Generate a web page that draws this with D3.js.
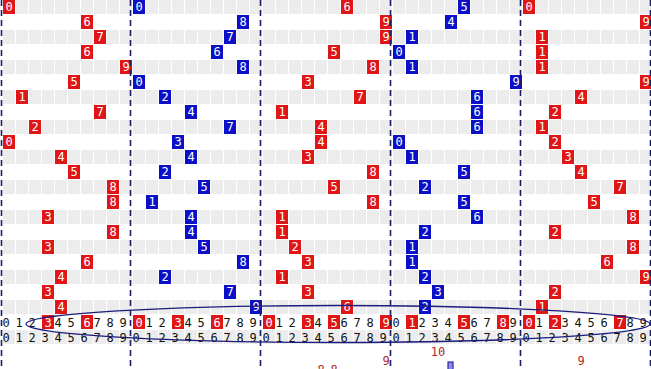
<!DOCTYPE html>
<html><head><meta charset="utf-8">
<script src="https://cdn.jsdelivr.net/npm/d3@7/dist/d3.min.js"></script>
<style>html,body{margin:0;padding:0;background:#fff;overflow:hidden}svg{display:block}</style>
</head><body>
<script>
// ---- data ----
const digits = [0,1,2,3,4,5,6,7,8,9];
const group1 = [0,6,7,6,9,5,1,7,2,0,4,5,8,8,3,8,3,6,4,3,4];
const group2 = [0,8,7,6,8,0,2,4,7,3,4,2,5,1,4,4,5,8,2,7,9];
const group3 = [6,9,9,5,8,3,7,1,4,4,3,8,5,8,1,1,2,3,1,3,6];
const group4 = [5,4,1,0,1,9,6,6,6,0,1,5,2,5,6,2,1,1,2,3,2];
const group5 = [0,9,1,1,1,9,4,2,1,2,3,4,7,5,8,2,8,6,9,2,1];
const groupColors = ["red","blue","red","blue","red"];
const highlight1 = [3,6];
const highlight2 = [0,3,6];
const highlight3 = [0,3,5,9];
const highlight4 = [1,5,8];
const highlight5 = [0,2,7];
// bottom frequency labels (group, digit, value)
const freqGroup = [2,2,2,3,4];
const freqDigit = [4,5,9,3,4];
const freqValue = [8,8,9,10,9];

const groups = [group1,group2,group3,group4,group5];
const highlights = [highlight1,highlight2,highlight3,highlight4,highlight5];

const W = 651, H = 369;
const nRows = group1.length;
const svg = d3.select("body").append("svg").attr("width",W).attr("height",H);

const xGroup = d3.scaleLinear().domain([0,5]).range([0.5,650.5]);
const xDigit = d3.scaleBand().domain(d3.range(11)).range([2.5,145.5]);
const yRow = d3.scaleBand().domain(d3.range(nRows+3)).range([0,(nRows+3)*15]);
const yFreq = d3.scaleLinear().domain([10,9]).range([362,371]);

const RED = "#e01515", BLUE = "#0b10c8", GREY = "#ececec";
const fillOf = c => c==="red"?RED:BLUE;
const FONT = "'DejaVu Sans Mono', monospace";

// grey background cells
const gBg = svg.append("g");
const bgRows = d3.range(nRows+2).filter(r => r%2===0);
bgRows.forEach(r => {
  d3.range(5).forEach(g => {
    gBg.selectAll(null).data(digits).enter().append("rect")
      .attr("x", d => xGroup(g)+xDigit(d))
      .attr("y", yRow(r))
      .attr("width", xDigit.bandwidth()-1)
      .attr("height", yRow.bandwidth()-1)
      .attr("fill", GREY);
  });
});

// data boxes
const gMarks = svg.append("g");
groups.forEach((vals,g) => {
  const sel = gMarks.selectAll(null).data(vals.map((v,i)=>({v,i}))).enter().append("g");
  sel.append("rect")
    .attr("x", d => xGroup(g)+xDigit(d.v))
    .attr("y", d => yRow(d.i))
    .attr("width", 12).attr("height", 14)
    .attr("fill", fillOf(groupColors[g]));
  sel.append("text")
    .attr("x", d => xGroup(g)+xDigit(d.v)+6)
    .attr("y", d => yRow(d.i)+11)
    .attr("text-anchor","middle")
    .attr("font-family",FONT).attr("font-size","12px")
    .attr("fill","#fff")
    .text(d => d.v);
});

// label rows
const labelRows = [nRows, nRows+1];
labelRows.forEach((r,k) => {
  d3.range(5).forEach(g => {
    const hl = k===0 ? highlights[g] : [];
    const sel = svg.append("g").selectAll(null).data(digits).enter().append("g");
    sel.filter(d => hl.includes(d)).append("rect")
      .attr("x", d => xGroup(g)+xDigit(d))
      .attr("y", yRow(r))
      .attr("width", 12).attr("height", 14)
      .attr("fill", RED);
    sel.append("text")
      .attr("x", d => hl.includes(d) ? xGroup(g)+xDigit(d)+6 : xGroup(g)+xDigit(d)+3)
      .attr("y", yRow(r)+11.5)
      .attr("text-anchor","middle")
      .attr("font-family",FONT).attr("font-size","12px")
      .attr("fill", d => hl.includes(d) ? "#fff" : "#111")
      .text(d => d);
  });
});

// group dividers
svg.append("g").selectAll("line").data(d3.range(6)).enter().append("line")
  .attr("x1", g => g===0?1.5:xGroup(g)).attr("x2", g => g===0?1.5:xGroup(g))
  .attr("y1",0).attr("y2",H)
  .attr("stroke","#1c1c6c").attr("stroke-width",1.6)
  .attr("stroke-dasharray","6,4");

// ellipse around the label rows
svg.append("ellipse")
  .attr("cx",338).attr("cy",324).attr("rx",312).attr("ry",18.5)
  .attr("fill","none").attr("stroke","#1c1c7c").attr("stroke-width",1.3);

// bottom frequency labels / bar
const freq = freqValue.map((v,i)=>({v,g:freqGroup[i],d:freqDigit[i]}));
svg.append("g").selectAll("text").data(freq).enter().append("text")
  .attr("x", d => xGroup(d.g)+xDigit(d.d)+6)
  .attr("y", d => yFreq(d.v)-6)
  .attr("text-anchor","middle")
  .attr("font-family",FONT).attr("font-size","12px")
  .attr("fill","#b02828")
  .text(d => d.v);
svg.append("g").selectAll("rect").data(freq.filter(d=>d.v>=10)).enter().append("rect")
  .attr("x", d => xGroup(d.g)+xDigit(d.d+1)+3)
  .attr("y", d => yFreq(d.v))
  .attr("width",5).attr("height", d => H - yFreq(d.v) + 2)
  .attr("fill","#8c8ce6").attr("stroke","#2a2aa8").attr("stroke-width",1.2);
</script>
</body></html>
